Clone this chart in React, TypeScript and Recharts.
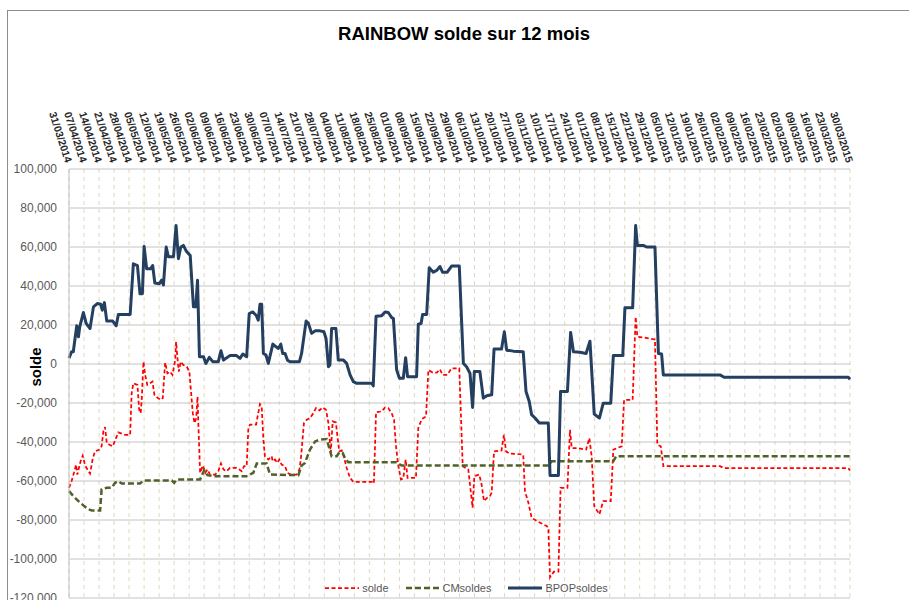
import { CartesianGrid, Legend, Line, LineChart, XAxis, YAxis } from 'recharts';

// weekly tick labels (one every 7 days from 31/03/2014)
const tickLabels = [
  '31/03/2014', '07/04/2014', '14/04/2014', '21/04/2014', '28/04/2014', '05/05/2014', '12/05/2014',
  '19/05/2014', '26/05/2014', '02/06/2014', '09/06/2014', '16/06/2014', '23/06/2014', '30/06/2014',
  '07/07/2014', '14/07/2014', '21/07/2014', '28/07/2014', '04/08/2014', '11/08/2014', '18/08/2014',
  '25/08/2014', '01/09/2014', '08/09/2014', '15/09/2014', '22/09/2014', '29/09/2014', '06/10/2014',
  '13/10/2014', '20/10/2014', '27/10/2014', '03/11/2014', '10/11/2014', '17/11/2014', '24/11/2014',
  '01/12/2014', '08/12/2014', '15/12/2014', '22/12/2014', '29/12/2014', '05/01/2015', '12/01/2015',
  '19/01/2015', '26/01/2015', '02/02/2015', '09/02/2015', '16/02/2015', '23/02/2015', '02/03/2015',
  '09/03/2015', '16/03/2015', '23/03/2015', '30/03/2015',
];
const tickDays = tickLabels.map((_, i) => i * 7);
const yTicks = [-120000, -100000, -80000, -60000, -40000, -20000, 0, 20000, 40000, 60000, 80000, 100000];

// solde (days since 31/03/2014 -> value)
const soldeDays = [
  0, 1.2, 2.3, 3.3, 3.9, 4.8, 5.4, 6.4, 7.5, 8.6, 9.8, 11, 12.1, 14.2, 15.2, 16, 16.8, 17.6, 18.8, 20.4,
  21.9, 23, 24.6, 26.1, 28.5, 29.2, 30, 31.9, 32.7, 33.4, 33.9, 34.7, 35.5, 36.5, 37.8, 38.9, 39.8, 41.4,
  42.9, 43.7, 44.8, 45.9, 47.1, 48.2, 49.5, 49.9, 50.7, 51.2, 52.1, 53.3, 54.9, 56.1, 57.7, 58.5, 59.3,
  59.9, 60.3, 61.1, 62.4, 63.5, 64.5, 65.7, 68.1, 69.6, 70.8, 72, 73.5, 75, 78.1, 79.4, 80.5, 81.6, 82.8,
  83.6, 84.4, 87.2, 88.2, 89, 89.8, 90.6, 91.3, 92.9, 93.7, 94.5, 94.9, 96, 97.1, 98, 99.1, 100.7, 101.8,
  103.3, 106.1, 107.4, 108.1, 109.5, 110.8, 112.3, 113.9, 115.1, 116.7, 118.2, 119.8, 120.9, 122, 122.9,
  124.4, 125.1, 126, 127.1, 127.9, 129.4, 131, 132.5, 141.1, 142.1, 143.1, 145.7, 147.3, 148.8, 150.4,
  151.5, 152.4, 153.5, 154.7, 155.8, 156.9, 157.8, 161.7, 162.8, 164.4, 166.4, 167.5, 169.5, 171.4, 172.9,
  174.1, 176.3, 178.3, 181.9, 183.5, 186.1, 188.1, 188.9, 191.2, 192.3, 193.4, 194.6, 196.2, 197, 198.1,
  201.6, 202.7, 203.7, 205.5, 208.6, 211.7, 212.5, 214.1, 215.6, 218, 222.6, 223.4, 224.2, 226, 228.1,
  229.1, 232.3, 233.5, 234.3, 236.6, 241, 242.5, 243.6, 244.8, 247.2, 249, 252.5, 253.7, 257.6, 258.7,
  262.7, 264.1, 264.9, 267.7, 273.1, 274.2, 275.8, 277, 303.4, 305.3, 363.2, 364,
];
const soldeValues = [
  -63500, -60000, -55800, -51600, -56700, -52400, -49900, -47000, -52100, -54100, -56200, -49000, -44800,
  -43900, -42200, -34600, -32300, -40500, -41400, -42200, -38000, -35100, -35700, -36300, -36300, -15000,
  -9900, -10700, -23500, -25200, -18400, 1200, -5600, -10700, -9900, -9000, -15800, -17500, -18400, -17500,
  700, -4800, -3900, -5600, 2000, 11400, 1200, -3900, 1200, -500, -1400, -3900, -25200, -30300, -27700,
  -16700, -31100, -55800, -52100, -55800, -54100, -56700, -56700, -55000, -51000, -54100, -55000, -53300,
  -53300, -54100, -55000, -52400, -52400, -32800, -31100, -31100, -25200, -20600, -21800, -38800, -47300,
  -49000, -48200, -47300, -49900, -49000, -50700, -49000, -51600, -52400, -55800, -56700, -56700, -54100,
  -48200, -30300, -28600, -27700, -25200, -22600, -23800, -22300, -23500, -30300, -45600, -29400, -30000,
  -37100, -44800, -44300, -46500, -53300, -58400, -60400, -60400, -61300, -24700, -24300, -22300, -22600,
  -25200, -28600, -42200, -52400, -59200, -58700, -49000, -58400, -58400, -32800, -28300, -26900, -3100,
  -4400, -4400, -2700, -5600, -5600, -2200, -2200, -52400, -54100, -73700, -57500, -56700, -61800, -70300,
  -68900, -67700, -66000, -44800, -44300, -36300, -44800, -46000, -46100, -46500, -65200, -71100, -78800,
  -80500, -83100, -83900, -109400, -106500, -106500, -63500, -63500, -33700, -43100, -43100, -43900,
  -38000, -47300, -72800, -77100, -70300, -70300, -43900, -42200, -18400, -18400, 24200, 14000, 13600,
  12600, -41400, -42200, -52400, -52400, -53400, -53400, -54600,
];

// CMsoldes
const cmDays = [
  0, 2, 4.4, 6.7, 9, 10.6, 14.5, 15.2, 17.6, 19.9, 21.5, 23, 24.6, 33.1, 34.7, 47.9, 49, 50.2, 61.1, 63,
  64.5, 67.3, 82.8, 85.9, 87.5, 92.1, 93.7, 106.9, 108.4, 110, 112.3, 114.7, 117, 120.1, 121.3, 122.4,
  124.8, 126, 127.5, 128.6, 130.2, 152.7, 155, 223.4, 225, 253.7, 255, 364,
];
const cmValues = [
  -65200, -67700, -70300, -72500, -74500, -75100, -75100, -64300, -63500, -63500, -60900, -60100, -61300,
  -61300, -59700, -59700, -60900, -59200, -59200, -54500, -57000, -57500, -57500, -55800, -51000, -51000,
  -56700, -57000, -52100, -50700, -43900, -39700, -38800, -38500, -43100, -47300, -47300, -45300, -45600,
  -48200, -50400, -50400, -52100, -52100, -49900, -49900, -47300, -47300,
];

// BPOPsoldes
const bpopDays = [
  0, 1.2, 2, 3.6, 4.4, 5, 6.7, 8, 9.8, 11.4, 13.2, 14.8, 15.5, 16.5, 17.6, 20.4, 22, 23, 28.5, 30, 31.9,
  33.1, 34.2, 35, 36.2, 38, 39, 40, 42.1, 43.2, 44, 45.3, 46.3, 48.7, 49.9, 51, 52.1, 53.3, 54.6, 56.5,
  58, 59.1, 59.9, 60.8, 62.7, 63.8, 65.4, 67, 69.6, 70.8, 72, 75, 78.1, 79.7, 81, 82.8, 84, 85.6, 87.2,
  88.2, 89, 89.8, 90.6, 91.8, 92.9, 95, 96.5, 97.6, 98.7, 99.6, 100.7, 101.8, 103, 107.4, 108.4, 110.5,
  111.5, 113.1, 114.7, 117, 118.8, 119.8, 120.9, 121.6, 122.4, 124.4, 125.5, 127.9, 129.4, 131, 132.5,
  134.1, 141.1, 141.8, 143.1, 145.7, 147.3, 148.8, 150.4, 151.2, 152.7, 154, 155.8, 156.9, 157.8, 162,
  162.8, 164.1, 164.8, 166.7, 167.9, 169.8, 171.4, 172.9, 174.1, 176.3, 178.3, 181.9, 183.8, 185.3, 186.9,
  188.1, 188.9, 191.5, 193.1, 194.7, 197, 198.1, 201.6, 202.9, 204, 207.1, 211.7, 213, 214.5, 215.6,
  217.2, 219.2, 223.4, 224.2, 228.1, 229.1, 232.3, 233.8, 235.1, 238.2, 241, 242.8, 244.8, 247.2, 249,
  252.5, 253.7, 258.1, 259.1, 262.7, 264.1, 264.9, 267.7, 269.2, 273.1, 274.7, 276.2, 277, 303.4, 305.3,
  363.2, 364,
];
const bpopValues = [
  3000, 6300, 6300, 19600, 14000, 19000, 26400, 20800, 18200, 29300, 31000, 30600, 27600, 31500, 22000,
  22000, 19600, 25400, 25400, 51400, 50500, 36000, 36000, 60300, 48800, 48800, 50500, 41500, 41200, 43000,
  40500, 60000, 55000, 55000, 71000, 54000, 60000, 60800, 58000, 55600, 29300, 29300, 43000, 3700, 3700,
  300, 3400, 1200, 1200, 6800, 2000, 4300, 4300, 2900, 5100, 3700, 25900, 26700, 25000, 22500, 30600,
  30600, 5400, 4600, 300, 10200, 8800, 8000, 10200, 5400, 5400, 2000, 1200, 1200, 5400, 22000, 21000,
  15700, 17000, 17000, 16500, 13100, -1400, -500, 18200, 18200, 2000, 2000, 300, -5600, -9000, -9900,
  -9900, -11200, 24500, 24700, 26700, 26400, 23800, 23300, -3000, -7300, -7300, 3200, -6500, -6500, 20400,
  20800, 25400, 25400, 49400, 47100, 48000, 50000, 47100, 47100, 50200, 50200, 300, -1400, -4800, -22300,
  -3900, -3900, -17500, -16300, -15800, 7700, 7700, 16500, 7100, 6600, 6300, -14100, -19200, -26000,
  -27700, -30300, -30300, -57200, -57200, -14100, -14100, 16200, 6300, 6000, 5400, 11700, -25700, -27700,
  -20100, -20100, 4300, 4300, 28800, 28800, 71000, 60800, 60800, 60000, 60000, 5400, 5100, -5600, -5600,
  -6800, -6800, -7800,
];

const toPoints = (days: number[], values: number[]) => days.map((d, i) => ({ day: d, v: values[i] }));
const soldeData = toPoints(soldeDays, soldeValues);
const cmData = toPoints(cmDays, cmValues);
const bpopData = toPoints(bpopDays, bpopValues);

const series = [
  { name: 'solde', color: '#ff0000', width: 1.75, dash: '4 2.5' },
  { name: 'CMsoldes', color: '#4f6228', width: 2.5, dash: '6 3' },
  { name: 'BPOPsoldes', color: '#243f60', width: 3, dash: undefined },
];

const FONT = '"Liberation Sans", Arial, sans-serif';

const DateTick = (props: any) => {
  const { x, y, payload } = props;
  const label = tickLabels[tickDays.indexOf(payload.value)];
  return (
    <g transform={`translate(${x},${y})`}>
      <text
        x={0}
        y={4}
        transform="rotate(72)"
        textAnchor="end"
        fontSize={10.5}
        fontWeight="bold"
        fill="#262626"
        fontFamily={FONT}
      >
        {label}
      </text>
    </g>
  );
};

const LegendContent = () => (
  <div
    style={{
      display: 'flex',
      justifyContent: 'center',
      gap: 17,
      fontSize: 11,
      color: '#595959',
      fontFamily: FONT,
    }}
  >
    {series.map(s => (
      <div key={s.name} style={{ display: 'flex', alignItems: 'center' }}>
        <svg width={34} height={10}>
          <line x1={0} y1={5} x2={34} y2={5} stroke={s.color} strokeWidth={s.width} strokeDasharray={s.dash} />
        </svg>
        <span style={{ marginLeft: 3 }}>{s.name}</span>
      </div>
    ))}
  </div>
);

export default function App() {
  return (
    <div style={{ position: 'relative', width: 909, height: 600, overflow: 'hidden', background: '#fff' }}>
      <style>{'body{margin:0;overflow:hidden}'}</style>
      <div
        style={{
          position: 'absolute',
          left: 7,
          top: 10,
          width: 1000,
          height: 700,
          borderLeft: '1px solid #8c8c8c',
          borderTop: '1px solid #8c8c8c',
        }}
      />
      <div
        style={{
          position: 'absolute',
          left: 0,
          top: 23,
          width: 928,
          textAlign: 'center',
          fontFamily: FONT,
          fontWeight: 'bold',
          fontSize: 18.5,
          color: '#000',
        }}
      >
        RAINBOW solde sur 12 mois
      </div>
      <div
        style={{
          position: 'absolute',
          left: 35,
          top: 367,
          transform: 'translate(-50%, -50%) rotate(-90deg)',
          fontFamily: FONT,
          fontWeight: 'bold',
          fontSize: 15,
          color: '#000',
        }}
      >
        solde
      </div>
      <div style={{ position: 'absolute', left: 0, top: 0 }}>
        <LineChart width={909} height={600} margin={{ top: 0, right: 59, bottom: 2, left: 0 }} style={{ fontFamily: FONT }}>
          <CartesianGrid horizontal={false} stroke="#ddd8c0" strokeDasharray="4 4" />
          <CartesianGrid vertical={false} stroke="#c4c4c4" />
          <XAxis
            dataKey="day"
            type="number"
            orientation="top"
            domain={[0, 364]}
            ticks={tickDays}
            height={169}
            axisLine={false}
            tickLine={false}
            tickSize={6}
            tickMargin={1}
            tick={<DateTick />}
            interval={0}
            allowDuplicatedCategory={false}
          />
          <YAxis
            type="number"
            domain={[-120000, 100000]}
            ticks={yTicks}
            width={69}
            axisLine={{ stroke: '#bfbfbf' }}
            tickLine={false}
            tickMargin={6}
            interval={0}
            tick={{ fontSize: 12, fill: '#595959', fontFamily: FONT }}
            tickFormatter={(v: number) => v.toLocaleString('en-US')}
          />
          <Line data={soldeData} dataKey="v" name="solde" stroke={series[0].color} strokeWidth={series[0].width}
            strokeDasharray={series[0].dash} dot={false} activeDot={false} isAnimationActive={false} />
          <Line data={cmData} dataKey="v" name="CMsoldes" stroke={series[1].color} strokeWidth={series[1].width}
            strokeDasharray={series[1].dash} dot={false} activeDot={false} isAnimationActive={false} />
          <Line data={bpopData} dataKey="v" name="BPOPsoldes" stroke={series[2].color} strokeWidth={series[2].width}
            dot={false} activeDot={false} isAnimationActive={false} strokeLinejoin="round" />
          <Legend
            layout="horizontal"
            verticalAlign="middle"
            align="center"
            content={<LegendContent />}
            wrapperStyle={{ top: 582, left: 12, width: 909 }}
          />
        </LineChart>
      </div>
    </div>
  );
}
